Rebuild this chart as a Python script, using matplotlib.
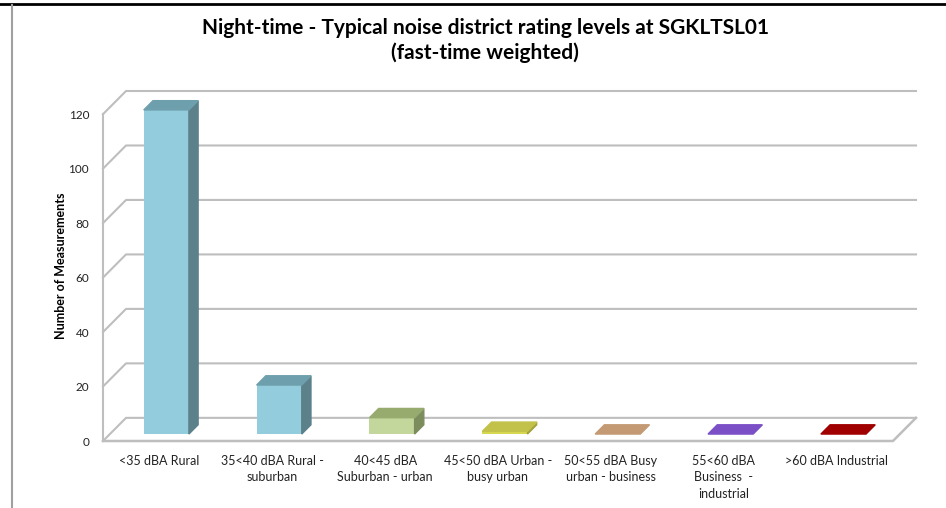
import matplotlib.pyplot as plt
from matplotlib.lines import Line2D

plt.rcParams['font.family'] = ['Lato', 'DejaVu Sans']

categories = ['<35 dBA Rural', '35<40 dBA Rural -\nsuburban', '40<45 dBA\nSuburban - urban',
              '45<50 dBA Urban -\nbusy urban', '50<55 dBA Busy\nurban - business',
              '55<60 dBA\nBusiness  -\nindustrial', '>60 dBA Industrial']
counts = [119, 18, 6, 1, 0, 0, 0]
yticks = [0, 20, 40, 60, 80, 100, 120]

front_cols = ['#93CDDD', '#93CDDD', '#C3D69B', '#D8D850', '#C49A74', '#7B4FC6', '#A00000']
top_cols = ['#6E9FAC', '#6E9FAC', '#97AB6F', '#C2C24A', '#C49A74', '#7B4FC6', '#A00000']
side_cols = ['#5C818B', '#5C818B', '#7D8C5C', '#A0A03C', '#A07E5E', '#5F3C9C', '#800000']

# depth offsets for the fake 3D look
DX, DY = 0.204, 8.5
z0, z1 = 0.3, 0.7
w = 0.4
grid_col = '#BEBEBE'

fig = plt.figure(figsize=(9.46, 5.08), dpi=100)
ax = fig.add_axes([103 / 946, 67 / 508, (916 - 103) / 946, (441 - 91) / 508])
ax.set_xlim(-0.5, 6.5 + DX)
ax.set_ylim(0, 120 + DY)
for s in ax.spines.values():
    s.set_visible(False)

# walls / gridlines
for v in yticks:
    ax.plot([-0.5, -0.5 + DX, 6.5 + DX], [v, v + DY, v + DY], color=grid_col, lw=1.5, clip_on=False)
ax.plot([-0.5, -0.5], [0, 120], color=grid_col, lw=1.5, clip_on=False)
ax.plot([-0.5, 6.5, 6.5 + DX], [0, 0, DY], color=grid_col, lw=1.8, clip_on=False)

# bars
for i, v in enumerate(counts):
    xl = i - w / 2
    xr = i + w / 2
    if v > 0:
        ax.bar(i + z0 * DX, v, width=w, bottom=z0 * DY, color=front_cols[i], zorder=3)
        ax.fill([xr + z0 * DX, xr + z1 * DX, xr + z1 * DX, xr + z0 * DX],
                [z0 * DY, z1 * DY, v + z1 * DY, v + z0 * DY], color=side_cols[i], zorder=3)
    ax.fill([xl + z0 * DX, xr + z0 * DX, xr + z1 * DX, xl + z1 * DX],
            [v + z0 * DY, v + z0 * DY, v + z1 * DY, v + z1 * DY], color=top_cols[i], zorder=3)

ax.set_yticks(yticks)
ax.set_yticklabels([str(t) for t in yticks], fontsize=8.5, color='#222222')
ax.set_xticks(range(len(categories)))
ax.set_xticklabels(categories, fontsize=9, color='#222222', linespacing=1.45)
ax.tick_params(length=0)
ax.tick_params(axis='y', pad=10)
ax.tick_params(axis='x', pad=10)
ax.set_ylabel('Number of Measurements', fontsize=9, fontweight='bold', labelpad=1)

fig.text(0.513, 0.965, 'Night-time - Typical noise district rating levels at SGKLTSL01\n(fast-time weighted)',
         ha='center', va='top', fontsize=15, fontweight='bold', linespacing=1.3)

# frame lines
fig.add_artist(Line2D([0, 1], [1 - 4 / 508, 1 - 4 / 508], color='black', lw=2))
fig.add_artist(Line2D([11.5 / 946, 11.5 / 946], [0, 1 - 5 / 508], color='#A0A0A0', lw=1.5))

fig.savefig('out.png', dpi=100)
